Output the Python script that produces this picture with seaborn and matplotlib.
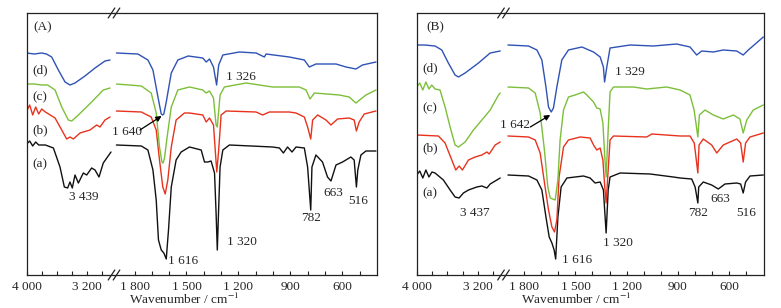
import pandas as pd
import seaborn as sns
import matplotlib.pyplot as plt
from matplotlib.lines import Line2D
from matplotlib.ticker import FixedLocator, FuncFormatter

# ---- data (wavenumber / cm-1, offset transmittance, a.u.) ----
# panel A
wn_A_d = [4000, 3900, 3800, 3737, 3667, 3578, 3489, 3423, 3356, 3223, 3089, 2956, 2889,
          1905, 1781, 1723, 1694, 1665, 1646, 1638, 1631, 1617, 1588, 1550, 1490, 1406, 1386,
          1367, 1344, 1326, 1314, 1290, 1194, 1098, 1050, 1040, 906, 819, 790, 752, 636, 578,
          521, 483, 405]
t_A_d = [222, 221, 222, 221, 218, 205, 193, 190, 192, 199, 207, 214, 215,
         222, 221, 215, 205, 178, 161, 160, 161, 173, 202, 215, 219, 217, 213,
         216, 208, 190, 210, 220, 223, 222, 218, 221, 218, 215, 208, 211, 211, 208,
         206, 210, 213]

wn_A_c = [4000, 3900, 3800, 3720, 3622, 3533, 3445, 3400, 3311, 3134, 2979, 2889,
          1905, 1761, 1704, 1675, 1656, 1642, 1635, 1627, 1612, 1588, 1550, 1483, 1406, 1386,
          1367, 1344, 1329, 1322, 1306, 1281, 1156, 1002, 848, 809, 786, 761, 617, 560, 521,
          463, 405]
t_A_c = [191, 191, 190, 190, 185, 168, 155, 154, 160, 173, 185, 187,
         191, 189, 182, 162, 128, 113, 112, 117, 138, 168, 185, 188, 185, 182,
         184, 177, 150, 148, 180, 188, 192, 188, 188, 185, 176, 182, 180, 178, 172,
         180, 185]

wn_A_b = [4000, 3960, 3920, 3880, 3840, 3800, 3751, 3622, 3533, 3467, 3423, 3378, 3289,
          3156, 3067, 3023, 2956, 2889,
          1905, 1761, 1704, 1675, 1656, 1637, 1623, 1608, 1588, 1560, 1512, 1483, 1406, 1386,
          1367, 1344, 1325, 1314, 1300, 1271, 1098, 1060, 1021, 906, 867, 819, 800, 782, 771,
          742, 694, 665, 627, 560, 531, 518, 502, 473, 405]
t_A_b = [164, 170, 160, 168, 161, 166, 163, 157, 145, 136, 138, 136, 142,
         145, 150, 148, 155, 158,
         164, 163, 158, 145, 115, 88, 81, 95, 128, 155, 162, 162, 160, 153,
         157, 150, 103, 125, 160, 164, 163, 160, 163, 163, 162, 158, 148, 136, 155,
         160, 155, 150, 156, 157, 155, 144, 153, 161, 164]

wn_A_a = [4000, 3960, 3920, 3880, 3840, 3751, 3644, 3556, 3498, 3454, 3423, 3392, 3356,
          3311, 3245, 3200, 3134, 3089, 3036, 2979, 2876,
          1905, 1761, 1723, 1694, 1675, 1662, 1646, 1631, 1617, 1604, 1588, 1560, 1531, 1483,
          1415, 1396, 1377, 1358, 1338, 1329, 1322, 1315, 1306, 1290, 1252, 1002, 963, 940,
          916, 890, 867, 819, 800, 782, 775, 752, 714, 685, 665, 636, 598, 550, 531, 518, 510,
          492, 463, 405]
t_A_a = [131, 134, 129, 133, 130, 130, 127, 108, 88, 87, 93, 87, 100,
         92, 102, 100, 107, 105, 98, 112, 123,
         130, 129, 125, 105, 75, 35, 25, 22, 16, 45, 88, 115, 123, 128,
         125, 113, 113, 114, 102, 62, 25, 62, 108, 125, 130, 128, 127, 122,
         128, 123, 128, 127, 108, 65, 108, 120, 113, 98, 94, 110, 113, 118, 115, 88, 105,
         120, 124, 124]

# panel B
wn_B_d = [4000, 3900, 3760, 3672, 3586, 3498, 3454, 3367, 3192, 3039, 2908,
          1896, 1775, 1726, 1697, 1673, 1658, 1642, 1629, 1609, 1580, 1541, 1462, 1394, 1355,
          1336, 1329, 1316, 1297, 1179, 1043, 906, 828, 789, 759, 691, 633, 554, 516, 486, 398]
t_B_d = [230, 230, 229, 225, 212, 200, 198, 202, 212, 222, 224,
         230, 229, 225, 215, 188, 168, 163, 167, 188, 215, 225, 228, 223, 218,
         208, 193, 208, 227, 230, 229, 231, 228, 220, 224, 223, 225, 224, 220, 225, 238]

wn_B_c = [4000, 3960, 3920, 3880, 3840, 3803, 3760, 3695, 3629, 3563, 3498, 3454, 3367,
          3258, 3148, 3039, 2930, 2908,
          1896, 1775, 1736, 1707, 1682, 1662, 1648, 1619, 1603, 1590, 1570, 1541, 1502, 1453,
          1433, 1394, 1375, 1355, 1339, 1328, 1320, 1308, 1297, 1277, 1160, 1082, 964, 886,
          828, 804, 782, 773, 740, 691, 633, 574, 535, 516, 495, 457, 398]
t_B_c = [188, 192, 185, 193, 186, 190, 186, 185, 168, 148, 130, 128, 133,
         145, 155, 165, 180, 182,
         188, 187, 182, 162, 125, 88, 77, 75, 95, 135, 165, 178, 180, 183,
         180, 173, 167, 166, 152, 118, 98, 145, 183, 188, 188, 186, 188, 185,
         180, 165, 138, 160, 165, 160, 156, 160, 156, 142, 155, 165, 170]

wn_B_b = [4000, 3716, 3629, 3541, 3489, 3445, 3402, 3323, 3236, 3148, 3082, 3052, 2974, 2908,
          1896, 1775, 1736, 1707, 1678, 1658, 1638, 1623, 1609, 1596, 1570, 1541, 1472, 1414,
          1394, 1375, 1355, 1339, 1328, 1320, 1308, 1297, 1277, 1082, 1052, 886, 828, 803,
          782, 775, 750, 701, 671, 633, 554, 531, 516, 502, 476, 398]
t_B_b = [140, 139, 132, 115, 105, 109, 105, 115, 118, 120, 123, 121, 130, 133,
         139, 138, 135, 122, 88, 65, 48, 43, 55, 98, 128, 135, 138, 137,
         130, 125, 127, 115, 88, 72, 105, 135, 139, 138, 141, 139, 139, 132,
         102, 130, 136, 130, 122, 130, 136, 132, 113, 132, 138, 142]

wn_B_a = [4000, 3960, 3920, 3880, 3840, 3800, 3760, 3651, 3563, 3498, 3445, 3389, 3323,
          3214, 3148, 3082, 3039, 2908,
          1896, 1775, 1726, 1697, 1673, 1654, 1638, 1625, 1616, 1603, 1584, 1550, 1502, 1453,
          1414, 1385, 1355, 1336, 1320, 1308, 1297, 1238, 1062, 926, 886, 818, 798, 782, 777,
          750, 701, 662, 623, 554, 531, 516, 502, 476, 398]
t_B_a = [100, 104, 97, 105, 98, 103, 102, 95, 85, 78, 77, 82, 85,
         88, 89, 87, 91, 97,
         100, 99, 95, 85, 58, 38, 32, 25, 16, 58, 88, 97, 98, 99,
         97, 92, 93, 85, 42, 85, 98, 102, 101, 98, 97, 96, 88, 72, 88,
         93, 90, 86, 91, 92, 91, 82, 93, 99, 100]

curve_names = ["(a)", "(b)", "(c)", "(d)"]
curve_colors = ["#111111", "#e8321e", "#7cbf3a", "#2f52b4"]

sns.set_style("white")
plt.rcParams["font.family"] = ["Liberation Serif", "DejaVu Serif"]
plt.rcParams["mathtext.fontset"] = "stix"

W, H = 781, 308
fig = plt.figure(figsize=(W / 100, H / 100), dpi=100)


def fx(px):
    return px / W


def fy(py):
    return 1 - py / H


def thousands(v, pos):
    return f"{int(round(v)):,}".replace(",", " ")


def make_panel(x0, xb, x1, left_lim, right_lim):
    bottom, top = fy(275), fy(13)
    ax_l = fig.add_axes([fx(x0), bottom, fx(xb - x0), top - bottom])
    ax_r = fig.add_axes([fx(xb), bottom, fx(x1 - xb), top - bottom])
    ax_l.set_xlim(*left_lim)
    ax_r.set_xlim(*right_lim)
    for ax in (ax_l, ax_r):
        ax.set_ylim(0, 262)
        ax.tick_params(axis="x", which="both", direction="in", bottom=True, top=False,
                       length=3, width=0.8, labelsize=9.5, pad=4, color="#222222")
        ax.tick_params(axis="y", left=False, right=False, labelleft=False)
        ax.xaxis.set_major_formatter(FuncFormatter(thousands))
        for s in ax.spines.values():
            s.set_linewidth(0.9)
            s.set_color("#222222")
    ax_l.spines["right"].set_visible(False)
    ax_r.spines["left"].set_visible(False)
    ax_l.xaxis.set_major_locator(FixedLocator([4000, 3200]))
    ax_l.xaxis.set_minor_locator(FixedLocator([3800, 3600, 3400, 3000]))
    ax_r.xaxis.set_major_locator(FixedLocator([1800, 1500, 1200, 900, 600]))
    ax_r.xaxis.set_minor_locator(FixedLocator([1700, 1600, 1400, 1300, 1100, 1000, 800, 700, 500]))
    # break marks "//" on top and bottom frame
    for yc in (13, 275):
        for xc in (xb - 2.5, xb + 2.5):
            fig.add_artist(Line2D([fx(xc - 3.3), fx(xc + 3.3)], [fy(yc + 5), fy(yc - 5)],
                                  transform=fig.transFigure, color="#222222", lw=0.9))
    return ax_l, ax_r


def draw_curves(ax_l, ax_r, curves):
    for (wn, t), color in zip(curves, curve_colors):
        df = pd.DataFrame({"wn": wn, "t": t})
        for ax, part in ((ax_l, df[df.wn > 2500]), (ax_r, df[df.wn < 2500])):
            sns.lineplot(data=part, x="wn", y="t", ax=ax, color=color, lw=1.0,
                         estimator=None, sort=False)
            ax.set_xlabel("")
            ax.set_ylabel("")


fs = 9.5

# ---------------- panel A ----------------
aL, aR = make_panel(26.7, 114, 377, (4000, 2836), (1919, 399))
draw_curves(aL, aR, [(wn_A_a, t_A_a), (wn_A_b, t_A_b), (wn_A_c, t_A_c), (wn_A_d, t_A_d)])
aL.text(3783, 248, "(A)", fontsize=fs, ha="center", va="center")
for name, v in zip(curve_names, [111, 145, 178, 205]):
    aL.text(3822, v, name, fontsize=fs, ha="center", va="center")
aL.text(3245, 78, "3 439", fontsize=fs, ha="center", va="center")
aR.text(1846, 143, "1 640", fontsize=fs, ha="center", va="center")
aR.annotate("", xy=(1644, 159), xytext=(1769, 145),
            arrowprops=dict(arrowstyle="-|>", color="black", lw=0.9, mutation_scale=8,
                            shrinkA=0, shrinkB=0))
aR.text(1607, 14, "1 616", fontsize=fs, ha="left", va="center")
aR.text(1187, 198, "1 326", fontsize=fs, ha="center", va="center")
aR.text(1181, 33, "1 320", fontsize=fs, ha="center", va="center")
aR.text(782, 57, "782", fontsize=fs, ha="center", va="center")
aR.text(652, 82, "663", fontsize=fs, ha="center", va="center")
aR.text(507, 74, "516", fontsize=fs, ha="center", va="center")

# ---------------- panel B ----------------
bL, bR = make_panel(416.7, 503.5, 764, (4000, 2865), (1922, 394))
draw_curves(bL, bR, [(wn_B_a, t_B_a), (wn_B_b, t_B_b), (wn_B_c, t_B_c), (wn_B_d, t_B_d)])
bL.text(3760, 248, "(B)", fontsize=fs, ha="center", va="center")
for name, v in zip(curve_names, [82, 127, 167, 207]):
    bL.text(3826, v, name, fontsize=fs, ha="center", va="center")
bL.text(3236, 62, "3 437", fontsize=fs, ha="center", va="center")
bR.text(1853, 150, "1 642", fontsize=fs, ha="center", va="center")
bR.annotate("", xy=(1648, 160), xytext=(1765, 148),
            arrowprops=dict(arrowstyle="-|>", color="black", lw=0.9, mutation_scale=8,
                            shrinkA=0, shrinkB=0))
bR.text(1578, 15, "1 616", fontsize=fs, ha="left", va="center")
bR.text(1179, 203, "1 329", fontsize=fs, ha="center", va="center")
bR.text(1248, 32, "1 320", fontsize=fs, ha="center", va="center")
bR.text(779, 62, "782", fontsize=fs, ha="center", va="center")
bR.text(652, 76, "663", fontsize=fs, ha="center", va="center")
bR.text(500, 62, "516", fontsize=fs, ha="center", va="center")

# axis titles, kept just inside the lower edge
for xc in (184, 576):
    fig.text(fx(xc), fy(307.3), r"Wavenumber / cm$^{-1}$", fontsize=9.5,
             ha="center", va="bottom")

fig.savefig("out.png", dpi=100)
